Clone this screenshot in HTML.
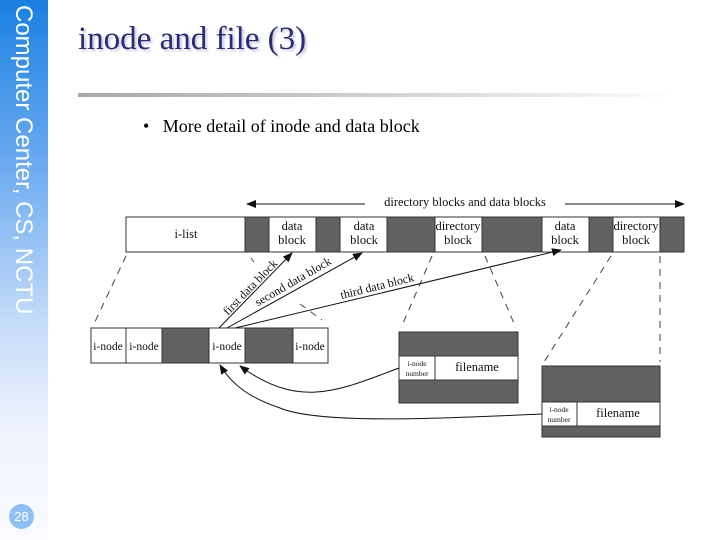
<!DOCTYPE html>
<html><head><meta charset="utf-8"><style>
body{margin:0;width:720px;height:540px;position:relative;background:#fff;overflow:hidden;font-family:"Liberation Serif",serif}
#side{position:absolute;left:0;top:0;width:48px;height:540px;background:linear-gradient(#1a80e2 0%,#6aaaf0 30%,#c4dcf8 60%,#eef3fd 80%,#fafbff 100%)}
#sidetxt{position:absolute;left:37px;top:5px;transform-origin:0 0;transform:rotate(90deg);color:#fff;font-family:"Liberation Sans",sans-serif;font-size:24px;white-space:nowrap}
#num{position:absolute;left:9px;top:504px;width:25px;height:25px;border-radius:50%;background:#8ec0f5;color:#fff;font-family:"Liberation Sans",sans-serif;font-size:13px;text-align:center;line-height:25px}
#title{position:absolute;left:78px;top:21px;font-size:33px;color:#2a2a78;text-shadow:2px 2px 2px #c8c8d8}
#rule{position:absolute;left:78px;top:93px;width:600px;height:4px;background:linear-gradient(90deg,#a8a8a8,#d8d8d8 60%,#fff)}
#bul{position:absolute;left:143px;top:116px;font-size:18px}
</style></head><body>
<div id="side"></div><div id="sidetxt">Computer Center, CS, NCTU</div><div id="num">28</div>
<div id="title">inode and file (3)</div><div id="rule"></div>
<div id="bul">•&nbsp;&nbsp;&nbsp;More detail of inode and data block</div>
<svg width="720" height="540" style="position:absolute;left:0;top:0" font-family="Liberation Serif, serif">
<defs><marker id="a" markerWidth="10" markerHeight="8" refX="9" refY="4" orient="auto" markerUnits="userSpaceOnUse"><path d="M0,0L10,4L0,8z" fill="#111"/></marker></defs>
<g stroke="#333" stroke-width="1">
<rect x="126" y="217" width="558" height="35" fill="#fff"/>
<g fill="#5f625f">
<rect x="245" y="217" width="24" height="35"/><rect x="316" y="217" width="24" height="35"/><rect x="387" y="217" width="48" height="35"/><rect x="482" y="217" width="60" height="35"/><rect x="589" y="217" width="24" height="35"/><rect x="660" y="217" width="24" height="35"/>
</g>
<rect x="91" y="328" width="237" height="35" fill="#fff"/>
<rect x="162" y="328" width="47" height="35" fill="#5f625f"/><rect x="245" y="328" width="48" height="35" fill="#5f625f"/>
<line x1="126" y1="328" x2="126" y2="363"/>
<rect x="399" y="332" width="119" height="71" fill="#5f625f"/>
<rect x="399" y="356" width="119" height="24" fill="#fff"/><line x1="435" y1="356" x2="435" y2="380"/>
<rect x="542" y="366" width="118" height="71" fill="#5f625f"/>
<rect x="542" y="402" width="118" height="24" fill="#fff"/><line x1="577" y1="402" x2="577" y2="426"/>
</g>
<g stroke="#444" stroke-dasharray="7,6" fill="none">
<line x1="126" y1="256" x2="93" y2="326"/>
<line x1="251" y1="258" x2="254" y2="262"/>
<line x1="300" y1="304" x2="322" y2="320"/>
<line x1="432" y1="256" x2="401" y2="328"/>
<line x1="485" y1="256" x2="516" y2="328"/>
<line x1="611" y1="256" x2="544" y2="362"/>
<line x1="660" y1="256" x2="660" y2="362"/>
</g>
<g stroke="#111" fill="none" stroke-width="1">
<line x1="365" y1="204" x2="247" y2="204" marker-end="url(#a)"/>
<line x1="565" y1="204" x2="684" y2="204" marker-end="url(#a)"/>
<line x1="219" y1="328" x2="292" y2="253" marker-end="url(#a)"/>
<line x1="227" y1="328" x2="362" y2="253" marker-end="url(#a)"/>
<line x1="235" y1="328" x2="561" y2="250" marker-end="url(#a)"/>
<path d="M399,368 C340,390 300,410 240,366" marker-end="url(#a)"/>
<path d="M542,414 C450,418 320,425 280,408 C250,398 232,385 220,365" marker-end="url(#a)"/>
</g>
<g fill="#111" font-size="12.5" text-anchor="middle">
<text x="465" y="206">directory blocks and data blocks</text>
<text x="186" y="238">i-list</text>
<text x="292" y="230">data</text><text x="292" y="244">block</text>
<text x="364" y="230">data</text><text x="364" y="244">block</text>
<text x="458" y="230">directory</text><text x="458" y="244">block</text>
<text x="565" y="230">data</text><text x="565" y="244">block</text>
<text x="636" y="230">directory</text><text x="636" y="244">block</text>
<text x="108" y="350" font-size="11.5">i-node</text><text x="144" y="350" font-size="11.5">i-node</text>
<text x="227" y="350" font-size="11.5">i-node</text><text x="310" y="350" font-size="11.5">i-node</text>
<text x="477" y="371">filename</text><text x="618" y="417">filename</text>
<text x="417" y="366" font-size="7.5">i-node</text><text x="417" y="376" font-size="7.5">number</text>
<text x="559" y="412" font-size="7.5">i-node</text><text x="559" y="422" font-size="7.5">number</text>
<text transform="translate(253,290) rotate(-46)" font-size="12">first data block</text>
<text transform="translate(295,285) rotate(-30)" font-size="12">second data block</text>
<text transform="translate(378,290) rotate(-14)" font-size="12">third data block</text>
</g>
</svg>
</body></html>
